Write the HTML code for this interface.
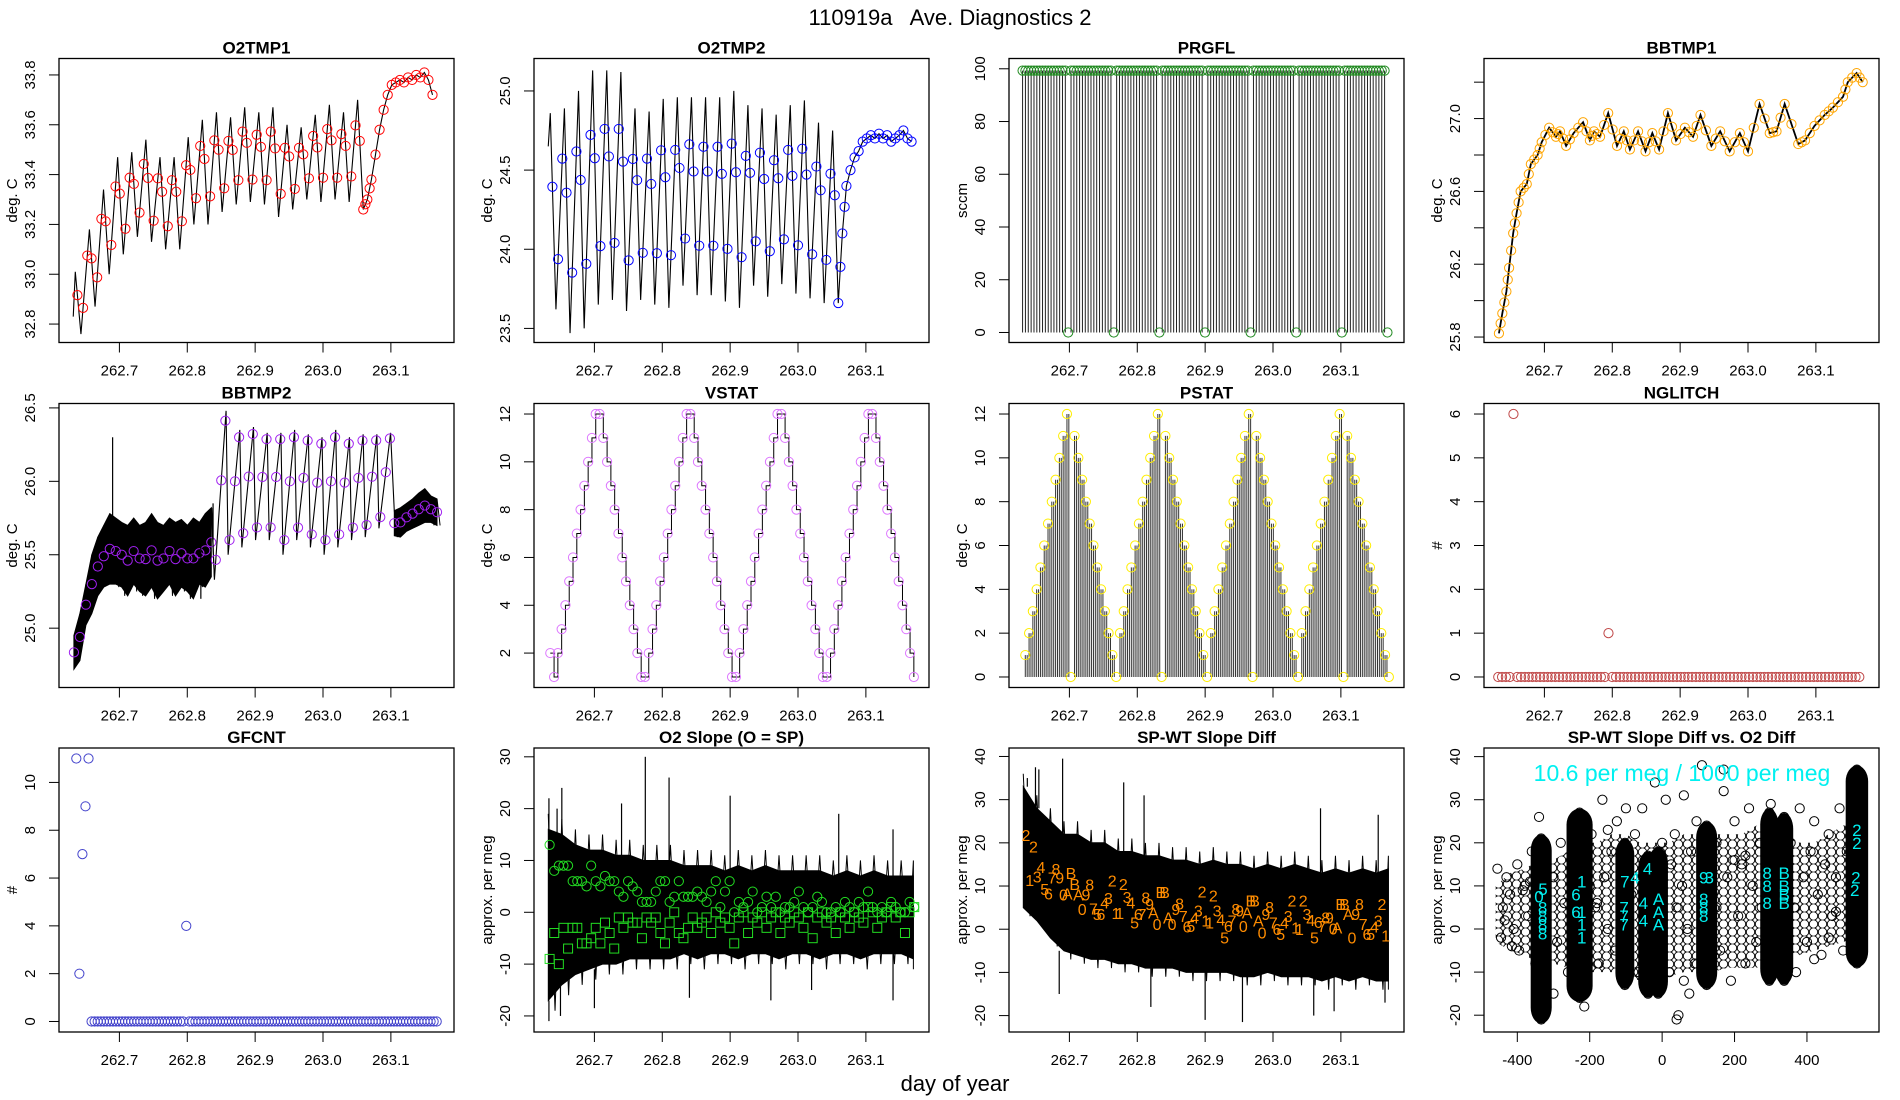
<!DOCTYPE html>
<html><head><meta charset="utf-8"><title>110919a Ave. Diagnostics 2</title>
<style>
html,body{margin:0;padding:0;background:#fff;}
svg{display:block;font-family:"Liberation Sans",Arial,sans-serif;}
</style></head>
<body>
<svg id="chart" xmlns="http://www.w3.org/2000/svg" width="1900" height="1100" viewBox="0 0 1900 1100">
<defs>
<pattern id="circlePat" patternUnits="userSpaceOnUse" width="9" height="8">
<circle cx="4.5" cy="4" r="4.2" fill="none" stroke="#000" stroke-width="0.9"/>
</pattern>
<clipPath id="scatterClip"><rect x="1484" y="748" width="395" height="284"/></clipPath>
</defs>
<rect x="0" y="0" width="1900" height="1100" fill="#fff"/>
<text x="950" y="25" text-anchor="middle" font-size="22" style="white-space:pre">110919a   Ave. Diagnostics 2</text>
<text x="955" y="1091" text-anchor="middle" font-size="22">day of year</text>
</svg>
<script>
// ---------- data ----------
const dayTicks=[262.7,262.8,262.9,263.0,263.1];
const dayTickLabels=['262.7','262.8','262.9','263.0','263.1'];
const cycleStart=262.635, cyclePeriod=0.0208;
const o2t1Peaks=[33.01,33.18,33.34,33.47,33.49,33.54,33.47,33.47,33.55,33.62,33.65,33.63,33.67,33.65,33.67,33.6,33.59,33.64,33.68,33.65,33.7];
const o2t1Troughs=[32.76,32.87,33.0,33.08,33.15,33.13,33.1,33.1,33.2,33.2,33.25,33.28,33.29,33.28,33.23,33.26,33.3,33.29,33.3,33.29,33.26];
const o2t1Start=32.83;
const o2t1Tail=[33.3,33.38,33.48,33.58,33.66,33.72,33.76,33.77,33.78,33.77,33.79,33.78,33.8,33.79,33.81,33.78,33.72];
const o2t2Peaks=[24.86,24.89,25.0,25.13,25.13,25.12,24.89,24.87,24.95,24.96,24.96,24.96,24.96,25.0,24.91,24.89,24.85,24.91,24.94,24.8,24.75];
const o2t2Troughs=[23.62,23.47,23.5,23.65,23.68,23.61,23.68,23.65,23.63,23.77,23.71,23.71,23.67,23.63,23.77,23.7,23.78,23.72,23.69,23.66,23.66];
const o2t2Start=24.65;
const o2t2Tail=[24.1,24.4,24.5,24.58,24.62,24.68,24.7,24.72,24.7,24.73,24.7,24.72,24.68,24.7,24.72,24.75,24.7,24.68];
const prgflStart=262.631, prgflStep=0.0042;
const prgflVals=[99.3,99.3,99.3,99.3,99.3,99.3,99.3,99.3,99.3,99.3,99.3,99.3,99.3,99.3,99.3,99.3,0,
99.3,99.3,99.3,99.3,99.3,99.3,99.3,99.3,99.3,99.3,99.3,99.3,99.3,99.3,99.3,0,
99.3,99.3,99.3,99.3,99.3,99.3,99.3,99.3,99.3,99.3,99.3,99.3,99.3,99.3,99.3,0,
99.3,99.3,99.3,99.3,99.3,99.3,99.3,99.3,99.3,99.3,99.3,99.3,99.3,99.3,99.3,0,
99.3,99.3,99.3,99.3,99.3,99.3,99.3,99.3,99.3,99.3,99.3,99.3,99.3,99.3,99.3,0,
99.3,99.3,99.3,99.3,99.3,99.3,99.3,99.3,99.3,99.3,99.3,99.3,99.3,99.3,99.3,0,
99.3,99.3,99.3,99.3,99.3,99.3,99.3,99.3,99.3,99.3,99.3,99.3,99.3,99.3,99.3,0,
99.3,99.3,99.3,99.3,99.3,99.3,99.3,99.3,99.3,99.3,99.3,99.3,99.3,99.3,99.3,0];
const bb1Days=[262.633,262.638,262.644,262.648,262.654,262.659,262.665,262.674,262.68,262.69,262.696,262.707,262.717,262.723,262.732,262.743,262.757,262.767,262.773,262.782,262.794,262.807,262.817,262.826,262.838,262.849,262.859,262.869,262.882,262.894,262.907,262.919,262.93,262.946,262.959,262.973,262.988,263.0,263.017,263.032,263.042,263.054,263.074,263.084,263.098,263.113,263.125,263.14,263.147,263.16,263.169];
const bb1Vals=[25.82,25.93,26.05,26.18,26.37,26.48,26.6,26.64,26.75,26.8,26.87,26.95,26.9,26.93,26.85,26.92,26.98,26.88,26.93,26.9,27.03,26.85,26.93,26.83,26.93,26.82,26.92,26.83,27.03,26.88,26.95,26.9,27.02,26.85,26.93,26.82,26.92,26.82,27.08,26.92,26.93,27.08,26.86,26.88,26.96,27.02,27.06,27.12,27.2,27.25,27.2];
const bb2Seg1Start=262.633, bb2Seg1Step=0.0088;
const bb2Seg1Hi=[24.95,25.1,25.3,25.5,25.62,25.7,25.78,25.75,25.72,25.7,25.75,25.7,25.72,25.78,25.72,25.7,25.75,25.72,25.74,25.7,25.75,25.72,25.78,25.82];
const bb2Seg1Lo=[24.72,24.78,25.02,25.1,25.22,25.28,25.3,25.3,25.28,25.22,25.3,25.25,25.22,25.28,25.2,25.25,25.3,25.22,25.28,25.25,25.2,25.3,25.28,25.35];
const bb2SpikeDays=[262.69,262.82,262.838];
const bb2SpikeVals=[26.3,25.2,25.85];
const bb2SawStart=262.84, bb2SawPeriod=0.0202;
const bb2SawPeaks=[26.48,26.35,26.37,26.33,26.33,26.35,26.32,26.3,26.35,26.3,26.32,26.32,26.33];
const bb2SawTroughs=[25.33,25.5,25.55,25.6,25.6,25.5,25.6,25.55,25.5,25.55,25.6,25.62,25.68];
const bb2Seg3Start=263.105, bb2Seg3Step=0.009;
const bb2Seg3Hi=[25.8,25.82,25.85,25.88,25.92,25.95,25.9,25.88];
const bb2Seg3Lo=[25.63,25.62,25.66,25.68,25.7,25.72,25.72,25.7];
const stepStart=262.635, stepDt=0.00558;
const vstatVals=[2,1,2,3,4,5,6,7,8,9,10,11,12,12,11,10,9,8,7,6,5,4,3,2,1,1,2,3,4,5,6,7,8,9,10,11,12,12,11,10,9,8,7,6,5,4,3,2,1,1,2,3,4,5,6,7,8,9,10,11,12,12,11,10,9,8,7,6,5,4,3,2,1,1,2,3,4,5,6,7,8,9,10,11,12,12,11,10,9,8,7,6,5,4,3,2,1];
const pstatVals=[1,2,3,4,5,6,7,8,9,10,11,12,0,11,10,9,8,7,6,5,4,3,2,1,0,2,3,4,5,6,7,8,9,10,11,12,0,11,10,9,8,7,6,5,4,3,2,1,0,2,3,4,5,6,7,8,9,10,11,12,0,11,10,9,8,7,6,5,4,3,2,1,0,2,3,4,5,6,7,8,9,10,11,12,0,11,10,9,8,7,6,5,4,3,2,1,0];
const nglitchStart=262.632, nglitchStep=0.0056;
const nglitchVals=[0,0,0,0,6,0,0,0,0,0,0,0,0,0,0,0,0,0,0,0,0,0,0,0,0,0,0,0,0,1,0,0,0,0,0,0,0,0,0,0,0,0,0,0,0,0,0,0,0,0,0,0,0,0,0,0,0,0,0,0,0,0,0,0,0,0,0,0,0,0,0,0,0,0,0,0,0,0,0,0,0,0,0,0,0,0,0,0,0,0,0,0,0,0,0,0];
const gfcntStart=262.6365, gfcntStep=0.0045;
const gfcntVals=[11,2,7,9,11,0,0,0,0,0,0,0,0,0,0,0,0,0,0,0,0,0,0,0,0,0,0,0,0,0,0,0,0,0,0,0,4,0,0,0,0,0,0,0,0,0,0,0,0,0,0,0,0,0,0,0,0,0,0,0,0,0,0,0,0,0,0,0,0,0,0,0,0,0,0,0,0,0,0,0,0,0,0,0,0,0,0,0,0,0,0,0,0,0,0,0,0,0,0,0,0,0,0,0,0,0,0,0,0,0,0,0,0,0,0,0,0,0,0];
const bandStart=262.632, bandStep=0.02;
const o2sUpper=[16,15,13,12,12,11,11,10,10,10,9,9,9,8,9,8,9,8,8,8,8,7,8,7,8,7,7,7];
const o2sLower=[-17,-14,-12,-11,-10,-10,-9,-9,-9,-9,-8,-9,-8,-8,-9,-8,-8,-9,-8,-8,-9,-8,-8,-9,-8,-8,-8,-9];
const o2sSpikeDays=[262.633,262.645,262.652,262.74,262.775,262.81,262.9,263.06,263.14,262.633,262.65,262.7,262.84,262.96,263.02,263.14];
const o2sSpikeVals=[22,20,24,21,30,26,22.5,19,16,-21,-20,-18.5,-16.5,-17,-15,-17];
const o2sStep=0.0068;
const o2sCircles=[13,8,9,9,9,6,6,6,5,9,6,5,7,6,6,4,3,6,5,4,2,2,2,4,6,6,2,3,6,3,3,3,4,3,2,4,6,1,4,6,0,2,1,2,4,0,1,3,1,3,0,1,1,2,4,1,0,1,3,2,0,0,1,0,2,1,0,2,1,4,1,0,1,0,2,1,0,0,2,1];
const o2sSquares=[-9,-4,-10,-3,-7,-3,-3,-6,-6,-5,-3,-6,-2,-4,-7,-1,-3,-1,-2,-2,-5,-1,-2,-1,-4,-6,-2,0,-4,-5,-3,-1,-3,-2,-1,-4,0,-2,-1,-3,-6,-1,0,-4,-1,-2,0,-3,-1,0,-4,-1,-2,0,-1,-3,0,-5,-1,0,-2,-1,-4,0,-1,-3,0,-1,-2,1,0,-3,-1,0,1,-1,0,-4,0,1];
const spwtUpper=[33,28,25,22,22,20,20,18,18,17,17,16,16,15,16,15,15,14,15,14,15,14,13,14,13,14,13,14];
const spwtLower=[5,2,-2,-5,-6,-7,-7,-8,-8,-9,-9,-9,-10,-10,-10,-10,-11,-11,-10,-11,-11,-11,-12,-11,-12,-11,-12,-12];
const spwtSpikeDays=[262.638,262.65,262.655,262.69,262.78,262.81,263.07,263.155,262.685,262.82,262.9,262.955,263.06,263.09,263.165];
const spwtSpikeVals=[35,37.5,37,39.5,34,31,28,26.5,-15,-18,-21,-21.5,-20,-19,-17];
const spwtChars=['2','1','2','3','4','5','6','7','8','9','0','A','B','B','A','0','9','8','7','5','6','4','3','2','1','1','2','3','4','5','6','7','8','9','A','0','B','B','A','0','9','8','7','6','5','4','3','2','1','1','2','3','4','5','6','7','8','9','0','A','B','B','A','0','9','8','7','6','5','4','3','2','1','1','2','3','4','5','6','7','8','9','0','A','B','B','A','0','9','8','7','6','5','4','3','2','1'];
const spwtVals=[21.8,11.4,19.2,12.2,14.4,9.3,8.3,12,14,12,8,8.3,13,10.5,8,4.7,8,10.3,4.8,3.5,3.5,6.2,7.2,11.3,3.7,3.7,10.5,7.5,6.2,1.6,3.5,3.5,7.4,5.8,3.9,1.2,8.6,8.6,2.7,1.2,4.7,6,3.1,0.6,0.8,2.7,4.3,8.7,2,1.6,7.8,4.3,2.3,-1.9,0.8,2,4.7,4.3,0.8,3.9,6.6,6.6,2,-0.8,3.5,5.1,1.6,0,-1.1,1.6,3.1,6.6,0.4,0,6.6,3.5,2.1,-1.9,1.7,0.8,2.7,2.7,0.2,0.4,5.8,5.8,3.5,-1.9,3.5,5.8,1.2,-1.1,-1.1,0.6,2,5.8,-1.5];
const cloudX=[-460,-420,-380,-340,-300,-260,-220,-180,-140,-100,-60,-20,20,60,100,140,180,220,260,300,340,380,420,460,500,540];
const cloudUpper=[10,13,14,16,16,18,20,20,22,22,20,20,20,22,22,22,22,22,24,24,22,20,20,22,24,26];
const cloudLower=[-3,-5,-6,-8,-8,-9,-10,-10,-10,-11,-12,-12,-11,-10,-10,-10,-9,-9,-9,-8,-8,-6,-5,-4,-3,-2];
const clusterX=[-334,-228,-103,-39,-11,123,296,337,538];
const clusterHalfW=[18,25,15,16,16,18,14,14,20];
const clusterYmin=[-21,-16,-13,-15,-15,-13,-12,-12,-8];
const clusterYmax=[21,27,20,17,18,24,27,26,37];
const scatterX=[-440,-430,-445,-420,-410,-400,-395,-380,-370,-360,-350,-300,-290,-280,-270,-260,-250,-195,-185,-175,-165,-160,-150,-140,-130,-125,-85,-75,-65,-60,-55,-50,10,20,25,35,40,45,55,60,70,80,90,95,140,150,160,170,180,190,200,210,220,230,240,250,260,270,275,310,320,355,365,370,380,390,400,410,420,430,440,450,460,470,480,490,500,510,-340,-215,-20,110,170,40,-300,300,460,-100,0,-200,-210,130,150,75,-455,-435,-415,-385,-365,60,230,-150,-180,420,480,200];
const scatterY=[5,12,-2,8,0,15,-5,10,3,18,-8,12,-3,20,6,-10,15,22,5,-8,30,12,0,18,-5,25,8,22,-10,13,28,3,30,-10,15,22,5,-20,10,31,0,18,-8,25,8,20,-5,32,12,-12,25,3,15,-8,28,10,-3,20,5,22,-4,20,5,-10,28,12,-3,18,25,8,-6,15,22,3,12,28,-5,18,26,-18,34,38,37,-21,-15,29,-2,28,20,10,25,-10,5,-15,14,2,-4,9,11,-12,17,23,6,-7,4,16];
const cyanX=[-329,-340,-330,-330,-330,-330,-222,-238,-238,-222,-222,-222,-103,-105,-105,-105,-40,-75,-52,-10,-52,-10,-10,115,130,115,115,115,290,290,290,337,337,337,337,538,538,535,532];
const cyanY=[9.3,7.5,5,3,1,-1,11,8,4,4,1,-2,11,5,3,1,14,12,6,7,2,4,1,12,12,7,5,3,13,10,6,13,10,8,6,23,20,12,9];
const cyanChars=['5','0','8','8','8','8','1','6','6','1','1','1','7','7','7','7','4','4','4','A','4','A','A','9','3','8','8','8','8','8','8','B','B','B','B','2','2','2','2'];

// ---------- helpers ----------
const NS='http://www.w3.org/2000/svg';
const svg=document.getElementById('chart');
function mk(tag,parent,attrs){const e=document.createElementNS(NS,tag);for(const k in attrs)e.setAttribute(k,attrs[k]);parent.appendChild(e);return e;}
const COLX=[59,534,1009,1484], ROWY=[58.5,403.5,748];
const PW=395, PH=284;
const DAYDOM=[262.611,263.193];
function panel(c,r,xd,yd){
  const x0=COLX[c],y0=ROWY[r];
  return {x0:x0,y0:y0,w:PW,h:PH,
    x:v=>x0+(v-xd[0])/(xd[1]-xd[0])*PW,
    y:v=>y0+PH-(v-yd[0])/(yd[1]-yd[0])*PH};
}
function axes(p,g,title,ylab,xt,xl,yt,yl){
  const box=mk('rect',g,{x:p.x0,y:p.y0,width:p.w,height:p.h,fill:'none',stroke:'#000','stroke-width':1.3});
  
  
  const t=mk('text',g,{x:p.x0+p.w/2,y:p.y0-5,'text-anchor':'middle','font-size':17,'font-weight':'bold'});
  t.textContent=title;
  
  
  xt.forEach((v,i)=>{
    const X=p.x(v);
    const tk=mk('line',g,{x1:X,x2:X,y1:p.y0+p.h,y2:p.y0+p.h+10,stroke:'#000'});
    
    
    const tl=mk('text',g,{x:X,y:p.y0+p.h+33,'text-anchor':'middle','font-size':15});
    tl.textContent=xl[i];
    
    
  });
  yt.forEach((v,i)=>{
    const Y=p.y(v);
    const tk=mk('line',g,{x1:p.x0-10,x2:p.x0,y1:Y,y2:Y,stroke:'#000'});
    
    
    if(yl[i]!==''){
      const tl=mk('text',g,{x:p.x0-24,y:Y,'text-anchor':'middle','font-size':15,transform:`rotate(-90 ${p.x0-24} ${Y})`});
      tl.textContent=yl[i];
      
      
    }
  });
  const yy=p.y0+p.h/2, xx=p.x0-42;
  const at=mk('text',g,{x:xx,y:yy,'text-anchor':'middle','font-size':15,transform:`rotate(-90 ${xx} ${yy})`});
  at.textContent=ylab;
  
  
}
function group(name){const g=mk('g',svg,{});return g;}
function polyline(g,pts,attrs,name){
  const e=mk('polyline',g,Object.assign({points:pts.map(q=>q[0].toFixed(2)+','+q[1].toFixed(2)).join(' '),fill:'none'},attrs));
  
  
  return e;
}
function circ(g,X,Y,col,name){
  const c=mk('circle',g,{cx:X,cy:Y,r:4.6,fill:'none',stroke:col,'stroke-width':1});
  
  
  return c;
}
function sawPoints(start,per,startVal,peaks,troughs,tail,tailStep){
  const pts=[[start-0.003,startVal]];
  for(let i=0;i<peaks.length;i++){
    const t=start+i*per;
    pts.push([t,peaks[i]]);
    pts.push([t+0.4*per,troughs[i]]);
  }
  const t0=pts[pts.length-1][0];
  tail.forEach((v,i)=>pts.push([t0+(i+1)*tailStep,v]));
  return pts;
}
function interp(pts,t){
  for(let i=1;i<pts.length;i++){if(pts[i][0]>=t){const a=pts[i-1],b=pts[i];const f=(t-a[0])/(b[0]-a[0]||1);return a[1]+f*(b[1]-a[1]);}}
  return pts[pts.length-1][1];
}
function sawPanel(c,r,yd,yt,yl,title,peaks,troughs,startVal,tail,col,name){
  const p=panel(c,r,DAYDOM,yd);
  const g=group(name);
  axes(p,g,title,'deg. C',dayTicks,dayTickLabels,yt,yl);
  const pts=sawPoints(cycleStart,cyclePeriod,startVal,peaks,troughs,tail,0.006);
  polyline(g,pts.map(q=>[p.x(q[0]),p.y(q[1])]),{stroke:'#000','stroke-width':1.1},'temperature-line');
  for(let i=0;i<peaks.length;i++){
    [0.15,0.55,0.85].forEach(f=>{const t=cycleStart+(i+f)*cyclePeriod;circ(g,p.x(t),p.y(interp(pts,t)),col,'average-point');});
  }
  const ts=pts.length-tail.length-1;
  for(let i=ts;i<pts.length;i++){circ(g,p.x(pts[i][0]),p.y(pts[i][1]),col,'average-point');}
}

// ---------- O2TMP1 / O2TMP2 ----------
sawPanel(0,0,[32.726,33.866],[32.8,33.0,33.2,33.4,33.6,33.8],['32.8','33.0','33.2','33.4','33.6','33.8'],'O2TMP1',o2t1Peaks,o2t1Troughs,o2t1Start,o2t1Tail,'#ff0000','o2tmp1-panel');
sawPanel(1,0,[23.411,25.205],[23.5,24.0,24.5,25.0],['23.5','24.0','24.5','25.0'],'O2TMP2',o2t2Peaks,o2t2Troughs,o2t2Start,o2t2Tail,'#0000ff','o2tmp2-panel');

// ---------- PRGFL ----------
(function(){
  const p=panel(2,0,DAYDOM,[-3.8,103.9]);
  const g=group('prgfl-panel');
  axes(p,g,'PRGFL','sccm',dayTicks,dayTickLabels,[0,20,40,60,80,100],['0','20','40','60','80','100']);
  prgflVals.forEach((v,i)=>{
    const X=p.x(prgflStart+i*prgflStep);
    if(v>0){
      const l=mk('line',g,{x1:X,x2:X,y1:p.y(0),y2:p.y(v),stroke:'#222','stroke-width':1});
      
      
    }
  });
  prgflVals.forEach((v,i)=>{circ(g,p.x(prgflStart+i*prgflStep),p.y(v),'#228b22','flow-point');});
})();

// ---------- BBTMP1 ----------
(function(){
  const p=panel(3,0,DAYDOM,[25.77,27.33]);
  const g=group('bbtmp1-panel');
  axes(p,g,'BBTMP1','deg. C',dayTicks,dayTickLabels,[25.8,26.0,26.2,26.4,26.6,26.8,27.0,27.2],['25.8','','26.2','','26.6','','27.0','']);
  const pts=bb1Days.map((d,i)=>[d,bb1Vals[i]]);
  polyline(g,pts.map(q=>[p.x(q[0]),p.y(q[1])]),{stroke:'#000','stroke-width':1.8},'temperature-line');
  pts.forEach(q=>circ(g,p.x(q[0]),p.y(q[1]),'#ffa500','average-point'));
  for(let i=1;i<pts.length;i++){const t=(pts[i][0]+pts[i-1][0])/2;circ(g,p.x(t),p.y(interp(pts,t)),'#ffa500','average-point');}
})();

// ---------- BBTMP2 ----------
(function(){
  const p=panel(0,1,DAYDOM,[24.596,26.53]);
  const g=group('bbtmp2-panel');
  axes(p,g,'BBTMP2','deg. C',dayTicks,dayTickLabels,[25.0,25.5,26.0,26.5],['25.0','25.5','26.0','26.5']);
  const col='#a020f0';
  function band(start,step,hi,lo,name){
    const up=hi.map((v,i)=>[p.x(start+i*step),p.y(v)]);
    const dn=lo.map((v,i)=>[p.x(start+i*step),p.y(v)]).reverse();
    const e=mk('polygon',g,{points:up.concat(dn).map(q=>q[0].toFixed(1)+','+q[1].toFixed(1)).join(' '),fill:'#000',stroke:'#000','stroke-width':1});
    
    
    const zz=[];hi.forEach((v,i)=>{zz.push([p.x(start+i*step),p.y(v)]);zz.push([p.x(start+(i+0.5)*step),p.y(lo[Math.min(i+1,lo.length-1)])]);});
    polyline(g,zz,{stroke:'#000','stroke-width':1},name+'-trace');
    hi.forEach((v,i)=>{circ(g,p.x(start+i*step),p.y((v+lo[i])/2),col,'average-point');});
  }
  band(bb2Seg1Start,bb2Seg1Step,bb2Seg1Hi,bb2Seg1Lo,'noise-band-early');
  bb2SpikeDays.forEach((d,i)=>{
    const X=p.x(d);
    const l=mk('line',g,{x1:X,x2:X,y1:p.y(25.6),y2:p.y(bb2SpikeVals[i]),stroke:'#000','stroke-width':1.2});
    
    
  });
  const pts=[[bb2SawStart-0.004,bb2Seg1Hi[bb2Seg1Hi.length-1]]];
  bb2SawPeaks.forEach((v,i)=>{const t=bb2SawStart+i*bb2SawPeriod;pts.push([t,bb2SawTroughs[i]]);pts.push([t+0.85*bb2SawPeriod,v]);});
  pts.push([bb2Seg3Start,bb2Seg3Hi[0]]);
  polyline(g,pts.map(q=>[p.x(q[0]),p.y(q[1])]),{stroke:'#000','stroke-width':1.1},'sawtooth-line');
  bb2SawPeaks.forEach((v,i)=>{[0.1,0.5,0.8].forEach(f=>{const t=bb2SawStart+(i+f)*bb2SawPeriod;circ(g,p.x(t),p.y(interp(pts,t)),col,'average-point');});});
  band(bb2Seg3Start,bb2Seg3Step,bb2Seg3Hi,bb2Seg3Lo,'noise-band-late');
})();

// ---------- VSTAT ----------
(function(){
  const p=panel(1,1,DAYDOM,[0.56,12.44]);
  const g=group('vstat-panel');
  axes(p,g,'VSTAT','deg. C',dayTicks,dayTickLabels,[2,4,6,8,10,12],['2','4','6','8','10','12']);
  const pts=[];
  vstatVals.forEach((v,i)=>{const t=stepStart+i*stepDt;pts.push([p.x(t),p.y(v)]);pts.push([p.x(t+stepDt),p.y(v)]);});
  pts.pop();
  polyline(g,pts,{stroke:'#000','stroke-width':1},'step-line');
  vstatVals.forEach((v,i)=>circ(g,p.x(stepStart+i*stepDt),p.y(v),'#dd77ff','state-point'));
})();

// ---------- PSTAT ----------
(function(){
  const p=panel(2,1,DAYDOM,[-0.48,12.48]);
  const g=group('pstat-panel');
  axes(p,g,'PSTAT','deg. C',dayTicks,dayTickLabels,[0,2,4,6,8,10,12],['0','2','4','6','8','10','12']);
  pstatVals.forEach((v,i)=>{
    const t=stepStart+i*stepDt;
    [0,0.5].forEach(f=>{
      const X=p.x(t+f*stepDt);
      const l=mk('line',g,{x1:X,x2:X,y1:p.y(0),y2:p.y(v),stroke:'#333','stroke-width':1});
      
      
    });
  });
  pstatVals.forEach((v,i)=>circ(g,p.x(stepStart+i*stepDt),p.y(v),'#ffee00','state-point'));
})();

// ---------- NGLITCH ----------
(function(){
  const p=panel(3,1,DAYDOM,[-0.24,6.24]);
  const g=group('nglitch-panel');
  axes(p,g,'NGLITCH','#',dayTicks,dayTickLabels,[0,1,2,3,4,5,6],['0','1','2','3','4','5','6']);
  nglitchVals.forEach((v,i)=>circ(g,p.x(nglitchStart+i*nglitchStep),p.y(v),'#c04848','glitch-point'));
})();

// ---------- GFCNT ----------
(function(){
  const p=panel(0,2,DAYDOM,[-0.44,11.44]);
  const g=group('gfcnt-panel');
  axes(p,g,'GFCNT','#',dayTicks,dayTickLabels,[0,2,4,6,8,10],['0','2','4','6','8','10']);
  gfcntVals.forEach((v,i)=>circ(g,p.x(gfcntStart+i*gfcntStep),p.y(v),'#4444cc','count-point'));
})();

// ---------- band panels ----------
function bandPanel(c,name,title,yd,upper,lower,sd,sv){
  const p=panel(c,2,DAYDOM,yd);
  const g=group(name);
  const yt=[-20,-10,0,10,20,30,40].filter(v=>v<=yd[1]);
  axes(p,g,title,'approx. per meg',dayTicks,dayTickLabels,yt,yt.map(String));
  const up=upper.map((v,i)=>[p.x(Math.min(bandStart+i*bandStep,263.17)),p.y(v)]);
  const dn=lower.map((v,i)=>[p.x(Math.min(bandStart+i*bandStep,263.17)),p.y(v)]).reverse();
  const e=mk('polygon',g,{points:up.concat(dn).map(q=>q[0].toFixed(1)+','+q[1].toFixed(1)).join(' '),fill:'#000',stroke:'#000','stroke-width':1});
  
  
  const zz=[];
  upper.forEach((v,i)=>{const t=Math.min(bandStart+i*bandStep,263.17);zz.push([p.x(t),p.y(v+3)]);zz.push([p.x(Math.min(t+bandStep/2,263.17)),p.y(lower[i]-2)]);});
  polyline(g,zz,{stroke:'#000','stroke-width':1},'noise-trace');
  sd.forEach((d,i)=>{
    const idx=Math.min(Math.round((d-bandStart)/bandStep),upper.length-1);
    const base=sv[i]>0?upper[idx]:lower[idx];
    const X=p.x(d);
    const l=mk('line',g,{x1:X,x2:X,y1:p.y(base),y2:p.y(sv[i]),stroke:'#000','stroke-width':1.2});
    
    
  });
  return {p:p,g:g};
}
(function(){
  const r=bandPanel(1,'o2-slope-panel','O2 Slope (O = SP)',[-23.1,31.7],o2sUpper,o2sLower,o2sSpikeDays,o2sSpikeVals);
  const p=r.p,g=r.g,col='#22dd22';
  o2sCircles.forEach((v,i)=>circ(g,p.x(262.634+i*o2sStep),p.y(v),col,'o2-slope-circle'));
  o2sSquares.forEach((v,i)=>{
    const X=p.x(262.634+i*o2sStep),Y=p.y(v);
    const s=mk('rect',g,{x:X-4.5,y:Y-4.5,width:9,height:9,fill:'none',stroke:col,'stroke-width':1});
    
    
  });
})();
(function(){
  const r=bandPanel(2,'spwt-slope-panel','SP-WT Slope Diff',[-23.8,41.96],spwtUpper,spwtLower,spwtSpikeDays,spwtSpikeVals);
  const p=r.p,g=r.g;
  const n=spwtChars.length;
  spwtChars.forEach((ch,i)=>{
    const t=262.636+i*(263.166-262.636)/(n-1);
    const tx=mk('text',g,{x:p.x(t),y:p.y(spwtVals[i])+6,'text-anchor':'middle','font-size':16,fill:'#ff8c00'});
    tx.textContent=ch;
    
    
  });
})();

// ---------- scatter ----------
(function(){
  const p=panel(3,2,[-492,599],[-23.9,42.0]);
  const g=group('scatter-panel');
  axes(p,g,'SP-WT Slope Diff vs. O2 Diff','approx. per meg',[-400,-200,0,200,400],['-400','-200','0','200','400'],[-20,-10,0,10,20,30,40],['-20','-10','0','10','20','30','40']);
  const cg=mk('g',g,{'clip-path':'url(#scatterClip)'});
  
  
  const up=cloudX.map((v,i)=>[p.x(v),p.y(cloudUpper[i])]);
  const dn=cloudX.map((v,i)=>[p.x(v),p.y(cloudLower[i])]).reverse();
  const cloud=mk('polygon',cg,{points:up.concat(dn).map(q=>q[0].toFixed(1)+','+q[1].toFixed(1)).join(' '),fill:'url(#circlePat)',stroke:'none'});
  
  
  const n=Math.min(scatterX.length,scatterY.length);
  for(let i=0;i<n;i++){circ(cg,p.x(scatterX[i]),p.y(scatterY[i]),'#000','scatter-point');}
  clusterX.forEach((cx,i)=>{
    const x0=p.x(cx-clusterHalfW[i]),x1=p.x(cx+clusterHalfW[i]);
    const y0=p.y(clusterYmax[i]),y1=p.y(clusterYmin[i]);
    const e=mk('rect',cg,{x:x0-4,y:y0-4,width:x1-x0+8,height:y1-y0+8,rx:(x1-x0+8)/2,ry:16,fill:'#000'});
    
    
    [clusterYmin[i],clusterYmax[i]].forEach(yv=>circ(cg,p.x(cx),p.y(yv),'#000','scatter-point'));
  });
  cyanChars.forEach((ch,i)=>{
    const tx=mk('text',g,{x:p.x(cyanX[i]),y:p.y(cyanY[i])+6,'text-anchor':'middle','font-size':17,fill:'#00f0f0'});
    tx.textContent=ch;
    
    
  });
  const note=mk('text',g,{x:1682,y:781,'text-anchor':'middle','font-size':23,fill:'#00f0f0'});
  note.textContent='10.6 per meg / 1000 per meg';
  
  
})();
</script>
</body></html>
